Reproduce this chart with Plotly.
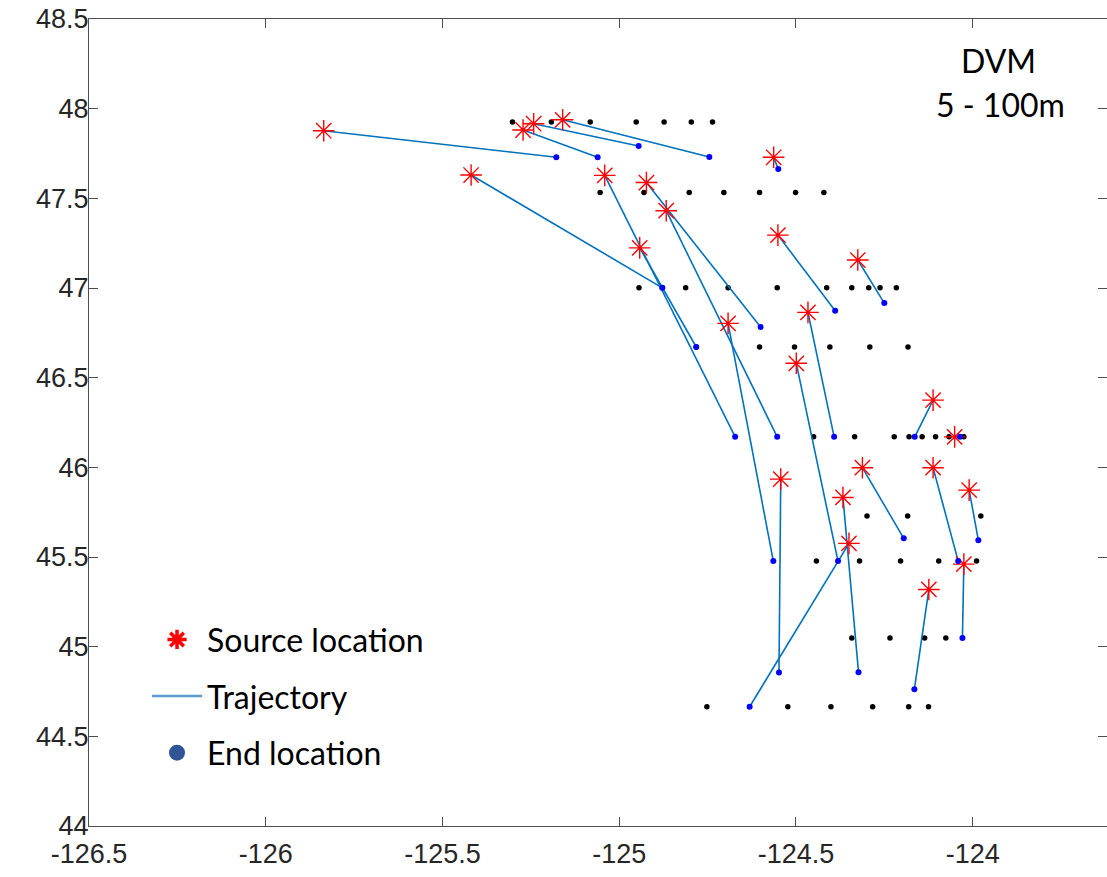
import plotly.graph_objects as go

# Source locations (red asterisks)
src_lon = [-125.836, -125.419, -125.272, -125.242, -125.160, -125.041, -124.923, -124.867,
           -124.942, -124.563, -124.551, -124.325, -124.692, -124.466, -124.499, -124.112,
           -124.051, -124.312, -124.112, -124.543, -124.010, -124.367, -124.350, -124.025,
           -124.124]
src_lat = [47.877, 47.630, 47.881, 47.916, 47.938, 47.628, 47.588, 47.431,
           47.224, 47.729, 47.295, 47.156, 46.803, 46.864, 46.580, 46.375,
           46.170, 45.998, 45.998, 45.934, 45.873, 45.832, 45.576, 45.460,
           45.319]
# End locations (blue dots), same order as sources
end_lon = [-125.178, -124.878, -125.061, -124.945, -124.745, -124.672, -124.600, -124.553,
           -124.782, -124.550, -124.389, -124.250, -124.564, -124.392, -124.381, -124.164,
           -124.036, -124.195, -124.041, -124.548, -123.984, -124.323, -124.631, -124.029,
           -124.165]
end_lat = [47.729, 47.001, 47.729, 47.792, 47.730, 46.170, 46.782, 46.170,
           46.671, 47.663, 46.873, 46.916, 45.477, 46.170, 45.477, 46.170,
           46.170, 45.604, 45.477, 44.856, 45.594, 44.858, 44.665, 45.048,
           44.762]
# Candidate grid (black dots): one latitude per row with its longitudes
grid_lat_rows = [47.926, 47.533, 47.001, 46.671, 46.170, 45.728, 45.477, 45.048, 44.665]
grid_lon_rows = [
    [-125.302, -125.192, -125.082, -124.952, -124.873, -124.796, -124.736],
    [-125.054, -124.930, -124.802, -124.704, -124.603, -124.501, -124.421],
    [-124.944, -124.878, -124.812, -124.692, -124.553, -124.413, -124.342, -124.294, -124.262, -124.216],
    [-124.782, -124.603, -124.504, -124.404, -124.291, -124.183],
    [-124.450, -124.334, -124.222, -124.180, -124.143, -124.105, -124.067, -124.025],
    [-124.299, -124.184, -123.977],
    [-124.442, -124.320, -124.204, -124.096, -123.989],
    [-124.342, -124.234, -124.136, -124.076],
    [-124.752, -124.523, -124.401, -124.283, -124.181, -124.125],
]
x_ticks = [-126.5, -126, -125.5, -125, -124.5, -124]
y_ticks = [44, 44.5, 45, 45.5, 46, 46.5, 47, 47.5, 48, 48.5]
legend_names = ["Source location", "Trajectory", "End location"]
panel_text = ["DVM", "5 - 100m"]

grid_x, grid_y = [], []
for lat, lons in zip(grid_lat_rows, grid_lon_rows):
    grid_x += lons
    grid_y += [lat] * len(lons)

traj_x, traj_y = [], []
for sx, sy, ex, ey in zip(src_lon, src_lat, end_lon, end_lat):
    traj_x += [sx, ex, None]
    traj_y += [sy, ey, None]

fig = go.Figure()
fig.add_trace(go.Scatter(x=grid_x, y=grid_y, mode="markers", showlegend=False,
                         marker=dict(color="black", size=5.5), hoverinfo="skip"))
fig.add_trace(go.Scatter(x=traj_x, y=traj_y, mode="lines", showlegend=False,
                         line=dict(color="#0072BD", width=1.6)))
fig.add_trace(go.Scatter(x=src_lon, y=src_lat, mode="markers", showlegend=False,
                         marker=dict(symbol="asterisk-open", size=18, color="#FF0000",
                                     line=dict(color="#FF0000", width=1.4))))
fig.add_trace(go.Scatter(x=end_lon, y=end_lat, mode="markers", showlegend=False,
                         marker=dict(color="#0000FF", size=6)))

# legend entries (styled like the overlay legend)
fig.add_trace(go.Scatter(x=[None], y=[None], mode="markers", name=legend_names[0],
                         legendgroup="a",
                         marker=dict(symbol="asterisk-open", size=16, color="#FF0000",
                                     line=dict(color="#FF0000", width=3.5))))
fig.add_trace(go.Scatter(x=[None], y=[None], mode="lines", name=legend_names[1],
                         legendgroup="b", line=dict(color="#5B9BD5", width=2.5)))
fig.add_trace(go.Scatter(x=[None], y=[None], mode="markers", name=legend_names[2],
                         legendgroup="c", marker=dict(color="#2F5597", size=16)))

axis_common = dict(showline=True, linecolor="#4d4d4d", linewidth=1, mirror="ticks",
                   ticks="inside", ticklen=9, tickcolor="#4d4d4d", showgrid=False,
                   zeroline=False,
                   tickfont=dict(family="Liberation Sans, Arial", size=27, color="#262626"))

fig.update_layout(
    width=1107, height=877,
    margin=dict(l=89, r=0, t=19, b=51),
    paper_bgcolor="white", plot_bgcolor="white",
    xaxis=dict(range=[-126.5, -123.62], tickvals=x_ticks,
               ticktext=[str(v) for v in x_ticks], ticklabelstandoff=4, **axis_common),
    yaxis=dict(range=[44, 48.5], tickvals=y_ticks,
               ticktext=[("%g" % v) for v in y_ticks], ticklabelstandoff=-6, **axis_common),
    legend=dict(x=0.057, y=0.265, xanchor="left", yanchor="top",
                font=dict(family="Lato", size=32, color="black"),
                bgcolor="rgba(0,0,0,0)", itemwidth=50, tracegroupgap=12,
                traceorder="grouped"),
    showlegend=True,
)
fig.add_annotation(xref="paper", yref="paper", x=0.893, y=0.949, text=panel_text[0],
                   showarrow=False, xanchor="center", yanchor="middle",
                   font=dict(family="Lato", size=32, color="black"))
fig.add_annotation(xref="paper", yref="paper", x=0.895, y=0.894, text=panel_text[1],
                   showarrow=False, xanchor="center", yanchor="middle",
                   font=dict(family="Lato", size=32, color="black"))

fig.write_html("out.html")
